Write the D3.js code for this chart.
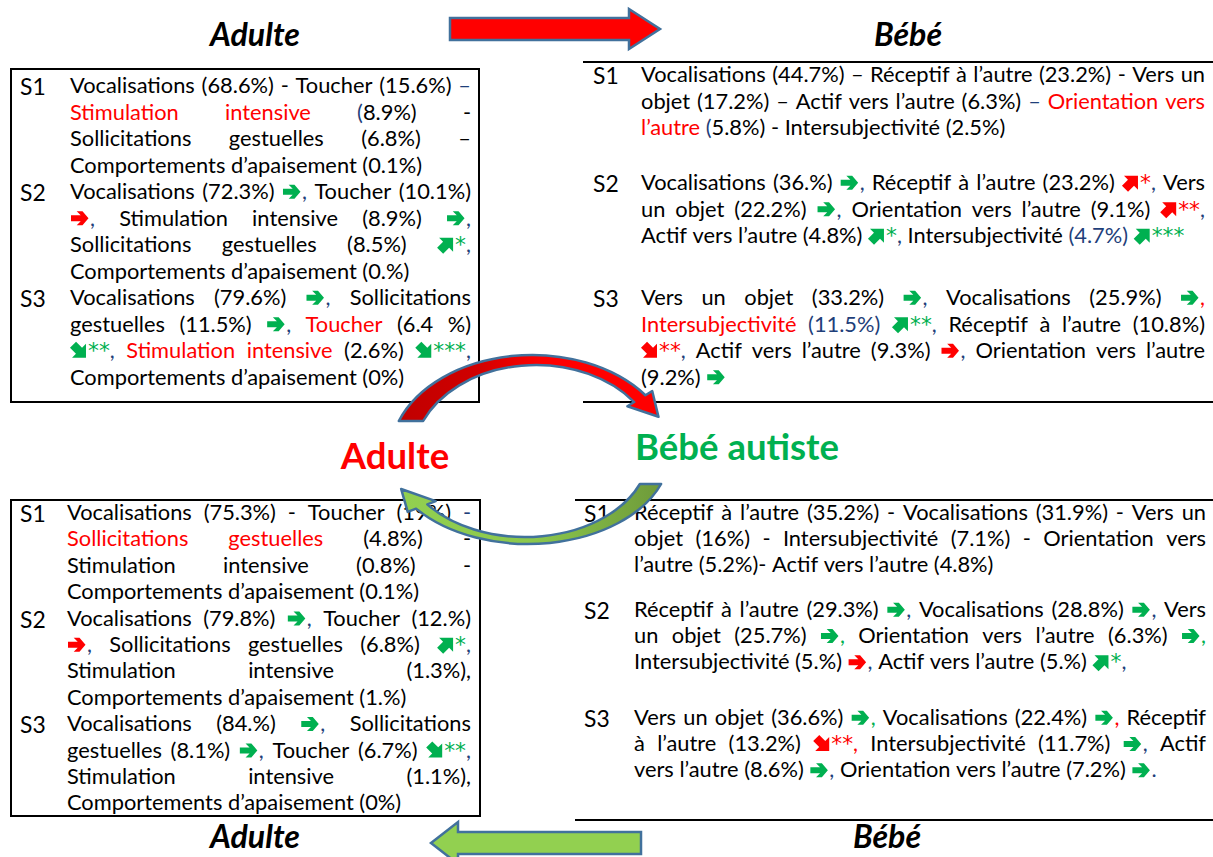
<!DOCTYPE html>
<html><head><meta charset="utf-8">
<script src="https://cdn.jsdelivr.net/npm/d3@7"></script>
<style>body{margin:0;background:#fff}svg{display:block}</style>
</head><body>
<svg id="c" width="1213" height="857"></svg>
<script>
// ---------------- DATA ----------------
// markup: {r:..} red, {g:..} green, {b:..} blue text; [rg]/[rr] right arrow green/red,
// [ug]/[ur] up-right arrow, [dg]/[dr] down-right arrow
const sessionLabels = ["S1", "S2", "S3"];
const headersTop = ["Adulte", "Bébé"];
const headersBottom = ["Adulte", "Bébé"];
const centerLabels = ["Adulte", "Bébé autiste"];

const adulteTypique = [
  ["Vocalisations (68.6%) - Toucher (15.6%) {b:–}",
   "{r:Stimulation intensive} {b:(}8.9%) -",
   "Sollicitations gestuelles (6.8%) –",
   "Comportements d’apaisement (0.1%)"],
  ["Vocalisations (72.3%) [rg]{b:,} Toucher (10.1%)",
   "[rr]{b:,} Stimulation intensive (8.9%) [rg]{b:,}",
   "Sollicitations gestuelles (8.5%) [ug]{g:*}{b:,}",
   "Comportements d’apaisement (0.%)"],
  ["Vocalisations (79.6%) [rg]{b:,} Sollicitations",
   "gestuelles (11.5%) [rg]{b:,} {r:Toucher} (6.4 %)",
   "[dg]{g:**}{b:,} {r:Stimulation intensive} (2.6%) [dg]{g:***}{b:,}",
   "Comportements d’apaisement (0%)"]
];

const bebeTypique = [
  ["Vocalisations (44.7%) – Réceptif à l’autre (23.2%) - Vers un",
   "objet (17.2%) – Actif vers l’autre (6.3%) {b:–} {r:Orientation vers}",
   "{r:l’autre} {b:(}5.8%) - Intersubjectivité (2.5%)"],
  ["Vocalisations (36.%) [rg]{b:,} Réceptif à l’autre (23.2%) [ur]{r:*}{b:,} Vers",
   "un objet (22.2%) [rg]{b:,} Orientation vers l’autre (9.1%) [ur]{r:**}{b:,}",
   "Actif vers l’autre (4.8%) [ug]{g:*}{b:,} Intersubjectivité {b:(4.7%)} [ug]{g:***}"],
  ["Vers un objet (33.2%) [rg]{b:,} Vocalisations (25.9%) [rg]{r:,}",
   "{r:Intersubjectivité} {b:(11.5%)} [ug]{g:**}{b:,} Réceptif à l’autre (10.8%)",
   "[dr]{r:**}{b:,} Actif vers l’autre (9.3%) [rr]{b:,} Orientation vers l’autre",
   "(9.2%) [rg]"]
];

const adulteAutisme = [
  ["Vocalisations (75.3%) - Toucher (19%) {b:-}",
   "{r:Sollicitations gestuelles} (4.8%) -",
   "Stimulation intensive (0.8%) -",
   "Comportements d’apaisement (0.1%)"],
  ["Vocalisations (79.8%) [rg]{b:,} Toucher (12.%)",
   "[rr]{b:,} Sollicitations gestuelles (6.8%) [ug]{g:*}{b:,}",
   "Stimulation intensive (1.3%),",
   "Comportements d’apaisement (1.%)"],
  ["Vocalisations (84.%) [rg]{b:,} Sollicitations",
   "gestuelles (8.1%) [rg]{b:,} Toucher (6.7%) [dg]{g:**}{b:,}",
   "Stimulation intensive (1.1%),",
   "Comportements d’apaisement (0%)"]
];

const bebeAutiste = [
  ["Réceptif à l’autre (35.2%) - Vocalisations (31.9%) - Vers un",
   "objet (16%) - Intersubjectivité (7.1%) - Orientation vers",
   "l’autre (5.2%)- Actif vers l’autre (4.8%)"],
  ["Réceptif à l’autre (29.3%) [rg]{b:,} Vocalisations (28.8%) [rg]{b:,} Vers",
   "un objet (25.7%) [rg]{g:,} Orientation vers l’autre (6.3%) [rg]{g:,}",
   "Intersubjectivité (5.%) [rr]{b:,} Actif vers l’autre (5.%) [ug]{g:*}{b:,}"],
  ["Vers un objet (36.6%) [rg]{g:,} Vocalisations (22.4%) [rg]{r:,} Réceptif",
   "à l’autre (13.2%) [dr]{r:**}{r:,} Intersubjectivité (11.7%) [rg]{b:,} Actif",
   "vers l’autre (8.6%) [rg]{b:,} Orientation vers l’autre (7.2%) [rg]{b:.}"]
];

// ---------------- STYLE / LAYOUT ----------------
const FONT = "Lato, 'Open Sans', sans-serif";
const STAR_FONT = "'DejaVu Sans', sans-serif";
const RED = "#ff0000", GREEN = "#00b050", BLUE = "#1f3f7a", BLACK = "#000";
const OUTLINE = "#41719c";
const colorOf = {r: RED, g: GREEN, b: BLUE};

const svg = d3.select("#c");
svg.append("rect").attr("width", 1213).attr("height", 857).attr("fill", "#fff");

const defs = svg.append("defs");
const gR = defs.append("linearGradient").attr("id", "gRed").attr("x1", 0).attr("x2", 1).attr("y1", 0).attr("y2", 0);
gR.append("stop").attr("offset", 0).attr("stop-color", "#c00000");
gR.append("stop").attr("offset", 0.3).attr("stop-color", "#d00000");
gR.append("stop").attr("offset", 0.55).attr("stop-color", "#ff0000");
const gG = defs.append("linearGradient").attr("id", "gGreen").attr("x1", 0).attr("x2", 1).attr("y1", 0).attr("y2", 0);
gG.append("stop").attr("offset", 0).attr("stop-color", "#92d050");
gG.append("stop").attr("offset", 0.5).attr("stop-color", "#8cc84c");
gG.append("stop").attr("offset", 1).attr("stop-color", "#6e9a3a");

const meas = svg.append("text").attr("x", -2000).attr("y", -2000);
function tw(str, size, weight = "normal", style = "normal", family = FONT) {
  meas.attr("font-family", family).attr("font-size", size).attr("font-weight", weight)
    .attr("font-style", style).text(str);
  return meas.node().getComputedTextLength();
}
const BODY = 100 * 352 / tw("Comportements d’apaisement (0.1%)", 100);
const LABEL = BODY * 1.05;

function parseLine(str) {
  const words = []; let cur = [];
  const re = /\[([rud])([gr])\]|\{([rgb]):([^}]*)\}|([^\[\{]+)/g;
  const pushText = (txt, color) => {
    txt.split(/( +)/).forEach(p => {
      if (p === "") return;
      if (/^ +$/.test(p)) { if (cur.length) { words.push(cur); cur = []; } }
      else cur.push({type: "t", text: p, color, family: /^\*+$/.test(p) ? STAR_FONT : FONT});
    });
  };
  let m;
  while ((m = re.exec(str))) {
    if (m[1]) cur.push({type: "i", dir: m[1], color: m[2] === "g" ? GREEN : RED});
    else if (m[3]) pushText(m[4], colorOf[m[3]]);
    else pushText(m[5], BLACK);
  }
  if (cur.length) words.push(cur);
  return words;
}

const ICON_W = {r: 20, u: 18, d: 18};
function pieceWidth(p) { return p.type === "t" ? tw(p.text, BODY, "normal", "normal", p.family) : ICON_W[p.dir]; }

const rightArrow = "M-8.5,-3 L1.2,-3 L-2.8,-7 L3,-7 L9,0 L3,7 L-2.8,7 L1.2,3 L-8.5,3 Z";
const diagArrow = "M-6.5,-3.3 L0,-3.3 L0,-7.6 L7.6,0 L0,7.6 L0,3.3 L-6.5,3.3 Z";

function drawLine(g, str, x0, x1, y, justify) {
  const words = parseLine(str);
  const widths = words.map(w => w.map(pieceWidth));
  const total = d3.sum(widths.map(a => d3.sum(a)));
  const space = tw("a a", BODY) - tw("aa", BODY);
  let gap = space;
  if (justify && words.length > 1) gap = (x1 - x0 - total) / (words.length - 1);
  let x = x0;
  words.forEach((w, i) => {
    let curText = null;
    w.forEach((p, j) => {
      const pw = widths[i][j];
      if (p.type === "t") {
        if (!curText) {
          curText = g.append("text").attr("x", x).attr("y", y)
            .attr("font-family", FONT).attr("font-size", BODY);
        }
        const ts = curText.append("tspan").attr("fill", p.color).text(p.text);
        if (p.family !== FONT) ts.attr("font-family", p.family);
      } else {
        curText = null;
        const cx = x + pw / 2, cy = y - BODY * 0.33;
        if (p.dir === "r") {
          g.append("path").attr("d", rightArrow).attr("fill", p.color)
            .attr("transform", `translate(${cx - 0.5},${cy})`);
        } else {
          g.append("path").attr("d", diagArrow).attr("fill", p.color)
            .attr("transform", `translate(${cx},${cy}) rotate(${p.dir === "u" ? -45 : 45}) scale(1.3)`);
        }
      }
      x += pw;
    });
    x += gap;
  });
}

const quads = [
  {data: adulteTypique, labelX: 20, x0: 70, x1: 471, starts: [93, 199, 305], step: 26.5},
  {data: bebeTypique, labelX: 593, x0: 641, x1: 1205, starts: [82, 190, 305], step: 26.5},
  {data: adulteAutisme, labelX: 20, x0: 67, x1: 471, starts: [520, 625.6, 731.2], step: 26.4},
  {data: bebeAutiste, labelX: 584, x0: 634, x1: 1206, starts: [520, 617, 725], step: 26.2}
];

// frames
const frame = svg.append("g").attr("fill", "none").attr("stroke", "#000").attr("stroke-width", 2);
frame.append("rect").attr("x", 11).attr("y", 69).attr("width", 468).attr("height", 333);
frame.append("rect").attr("x", 11).attr("y", 500).attr("width", 469).attr("height", 316);
frame.append("line").attr("x1", 583).attr("x2", 1213).attr("y1", 62).attr("y2", 62);
frame.append("line").attr("x1", 583).attr("x2", 1213).attr("y1", 402).attr("y2", 402);
frame.append("line").attr("x1", 575).attr("x2", 1213).attr("y1", 500).attr("y2", 500);
frame.append("line").attr("x1", 575).attr("x2", 1213).attr("y1", 820).attr("y2", 820);

// text blocks
quads.forEach(q => {
  const g = svg.append("g");
  q.data.forEach((para, pi) => {
    const y0 = q.starts[pi];
    g.append("text").attr("x", q.labelX).attr("y", y0 + 2).attr("font-family", FONT)
      .attr("font-size", LABEL).attr("fill", BLACK).text(sessionLabels[pi]);
    para.forEach((line, li) => {
      drawLine(g, line, q.x0, q.x1, y0 + li * q.step, li < para.length - 1);
    });
  });
});

// headers
const HEAD = 100 * 90 / tw("Adulte", 100, "bold", "italic");
const hdr = svg.append("g").attr("font-family", FONT).attr("font-weight", "bold")
  .attr("font-style", "italic").attr("font-size", HEAD).attr("text-anchor", "middle").attr("fill", "#000");
hdr.append("text").attr("x", 255).attr("y", 46).text(headersTop[0]);
hdr.append("text").attr("x", 908).attr("y", 46).text(headersTop[1]);
hdr.append("text").attr("x", 255).attr("y", 848).text(headersBottom[0]);
hdr.append("text").attr("x", 887).attr("y", 848).text(headersBottom[1]);

// straight block arrows
svg.append("path")
  .attr("d", "M450,18 L629,18 L629,9 L660,29 L629,49 L629,40 L450,40 Z")
  .attr("fill", RED).attr("stroke", OUTLINE).attr("stroke-width", 2.5).attr("stroke-linejoin", "miter");
svg.append("path")
  .attr("d", "M641,832 L458,832 L458,822 L431,843 L458,864 L458,854 L641,854 Z")
  .attr("fill", "#92d050").attr("stroke", OUTLINE).attr("stroke-width", 2.5);

// curved (tapered) arrows: outer & inner ellipses with different centres
function E(e, th) { const t = th * Math.PI / 180; return [e.cx + e.rx * Math.cos(t), e.cy - e.ry * Math.sin(t)]; }
function thAtY(e, y, side) {
  const s = Math.max(-1, Math.min(1, (e.cy - y) / e.ry));
  const a = Math.asin(s) * 180 / Math.PI;
  return side > 0 ? a : 180 - a;
}
function curvedArrow(o, i, tailY, side, thBase, headOut, headLen) {
  const o0 = E(o, thAtY(o, tailY, side)), i0 = E(i, thAtY(i, tailY, side));
  const o1 = E(o, thBase), i1 = E(i, thBase);
  let ux = o1[0] - i1[0], uy = o1[1] - i1[1]; const ul = Math.hypot(ux, uy); ux /= ul; uy /= ul;
  const ho = [o1[0] + ux * headOut, o1[1] + uy * headOut], hi = [i1[0] - ux * headOut, i1[1] - uy * headOut];
  const m = [(o1[0] + i1[0]) / 2, (o1[1] + i1[1]) / 2];
  const t = thBase * Math.PI / 180;
  let dx = ((o.rx + i.rx) / 2) * Math.sin(t), dy = ((o.ry + i.ry) / 2) * Math.cos(t);
  const L = Math.hypot(dx, dy); dx /= L; dy /= L;
  const tip = [m[0] + dx * headLen, m[1] + dy * headLen];
  return `M${o0} A${o.rx},${o.ry} 0 0 1 ${o1} L${ho} L${tip} L${hi} L${i1} A${i.rx},${i.ry} 0 0 0 ${i0} Z`;
}
const redOuter = {cx: 532, cy: 456, rx: 142, ry: 101}, redInner = {cx: 536, cy: 458, rx: 123, ry: 93};
const grnOuter = {cx: 528, cy: 452, rx: 142, ry: 92}, grnInner = {cx: 525, cy: 452, rx: 124, ry: 85};
svg.append("path").attr("d", curvedArrow(redOuter, redInner, 421, -1, 37, 8, 26))
  .attr("fill", "url(#gRed)").attr("stroke", OUTLINE).attr("stroke-width", 2.5).attr("stroke-linejoin", "round");
svg.append("path").attr("d", curvedArrow(grnOuter, grnInner, 484, 1, -142, 9, 27))
  .attr("fill", "url(#gGreen)").attr("stroke", OUTLINE).attr("stroke-width", 2.5).attr("stroke-linejoin", "round");

// center labels
const CEN = 100 * 204 / tw(centerLabels[1], 100, "bold");
svg.append("text").attr("x", 395).attr("y", 469).attr("text-anchor", "middle")
  .attr("font-family", FONT).attr("font-weight", "bold").attr("font-size", CEN).attr("fill", RED).text(centerLabels[0]);
svg.append("text").attr("x", 737).attr("y", 460).attr("text-anchor", "middle")
  .attr("font-family", FONT).attr("font-weight", "bold").attr("font-size", CEN).attr("fill", GREEN).text(centerLabels[1]);

meas.remove();
</script>
</body></html>
